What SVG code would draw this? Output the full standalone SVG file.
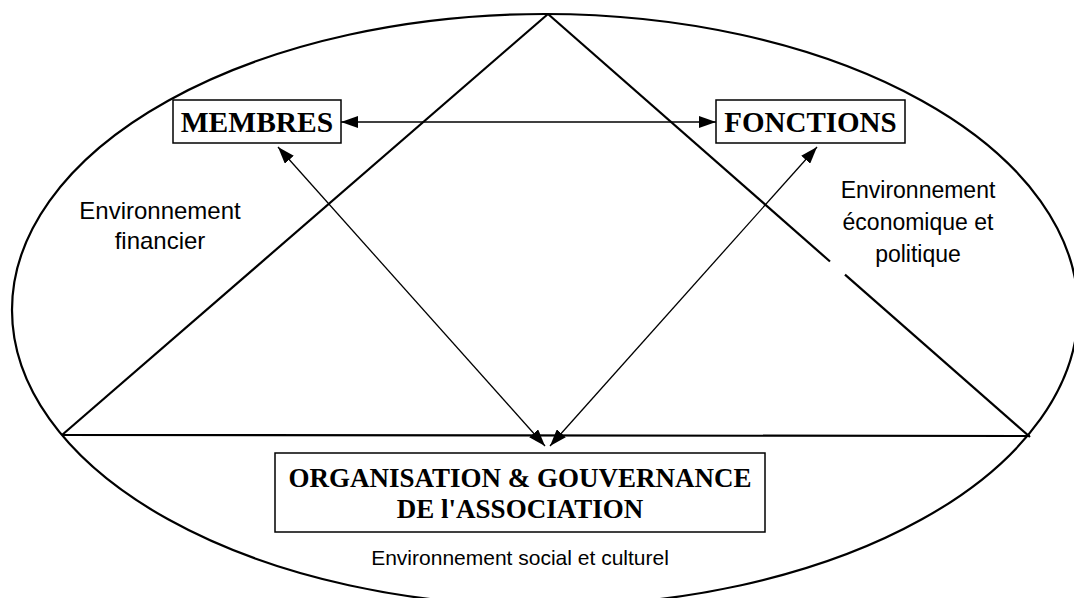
<svg xmlns="http://www.w3.org/2000/svg" width="1074" height="598" viewBox="0 0 1074 598">
<style>
.frame{fill:none;stroke:#000;stroke-width:2.2}
.box{fill:#fff;stroke:#000;stroke-width:1.5}
.conn{fill:none;stroke:#000;stroke-width:1.3}
.bt{font-family:"Liberation Serif",serif;font-weight:bold;fill:#000;text-anchor:middle}
.et{font-family:"Liberation Sans",sans-serif;fill:#000;text-anchor:middle}
</style>
<defs>
<marker id="ah" viewBox="0 0 17 12" refX="17" refY="6" markerWidth="17" markerHeight="12" markerUnits="userSpaceOnUse" orient="auto-start-reverse">
<path d="M0,0 L17,6 L0,12 z" fill="#000"/>
</marker>
</defs>
<rect width="1074" height="598" fill="#fff"/>
<g id="frame">
<ellipse class="frame" cx="545" cy="310" rx="533" ry="296"/>
<line class="frame" x1="548" y1="14" x2="62" y2="435"/>
<line class="frame" x1="548" y1="14" x2="830" y2="261.5"/>
<line class="frame" x1="845" y1="274.6" x2="1030" y2="437"/>
<line class="frame" x1="62" y1="435" x2="1030" y2="436"/>
</g>
<g id="env-financier">
<text class="et" x="160" y="219" font-size="24">Environnement</text>
<text class="et" x="160" y="249" font-size="24">financier</text>
</g>
<g id="env-economique">
<text class="et" x="918" y="198" font-size="23">Environnement</text>
<text class="et" x="918" y="230" font-size="23">économique et</text>
<text class="et" x="918" y="262" font-size="23">politique</text>
</g>
<g id="env-social">
<text class="et" x="520" y="565" font-size="21">Environnement social et culturel</text>
</g>
<g id="connectors">
<line class="conn" x1="341" y1="122" x2="716" y2="122" marker-start="url(#ah)" marker-end="url(#ah)"/>
<line class="conn" x1="278" y1="147" x2="545" y2="446" marker-start="url(#ah)" marker-end="url(#ah)"/>
<line class="conn" x1="817" y1="147" x2="550" y2="446" marker-start="url(#ah)" marker-end="url(#ah)"/>
</g>
<g id="membres">
<rect class="box" x="173" y="100" width="168" height="43"/>
<text class="bt" x="257" y="132" font-size="29.5">MEMBRES</text>
</g>
<g id="fonctions">
<rect class="box" x="716" y="100" width="189" height="43"/>
<text class="bt" x="810.5" y="132" font-size="29">FONCTIONS</text>
</g>
<g id="organisation">
<rect class="box" x="275" y="453" width="490" height="79"/>
<text class="bt" x="520" y="487" font-size="27">ORGANISATION &amp; GOUVERNANCE</text>
<text class="bt" x="520" y="518" font-size="27">DE l'ASSOCIATION</text>
</g>
</svg>
